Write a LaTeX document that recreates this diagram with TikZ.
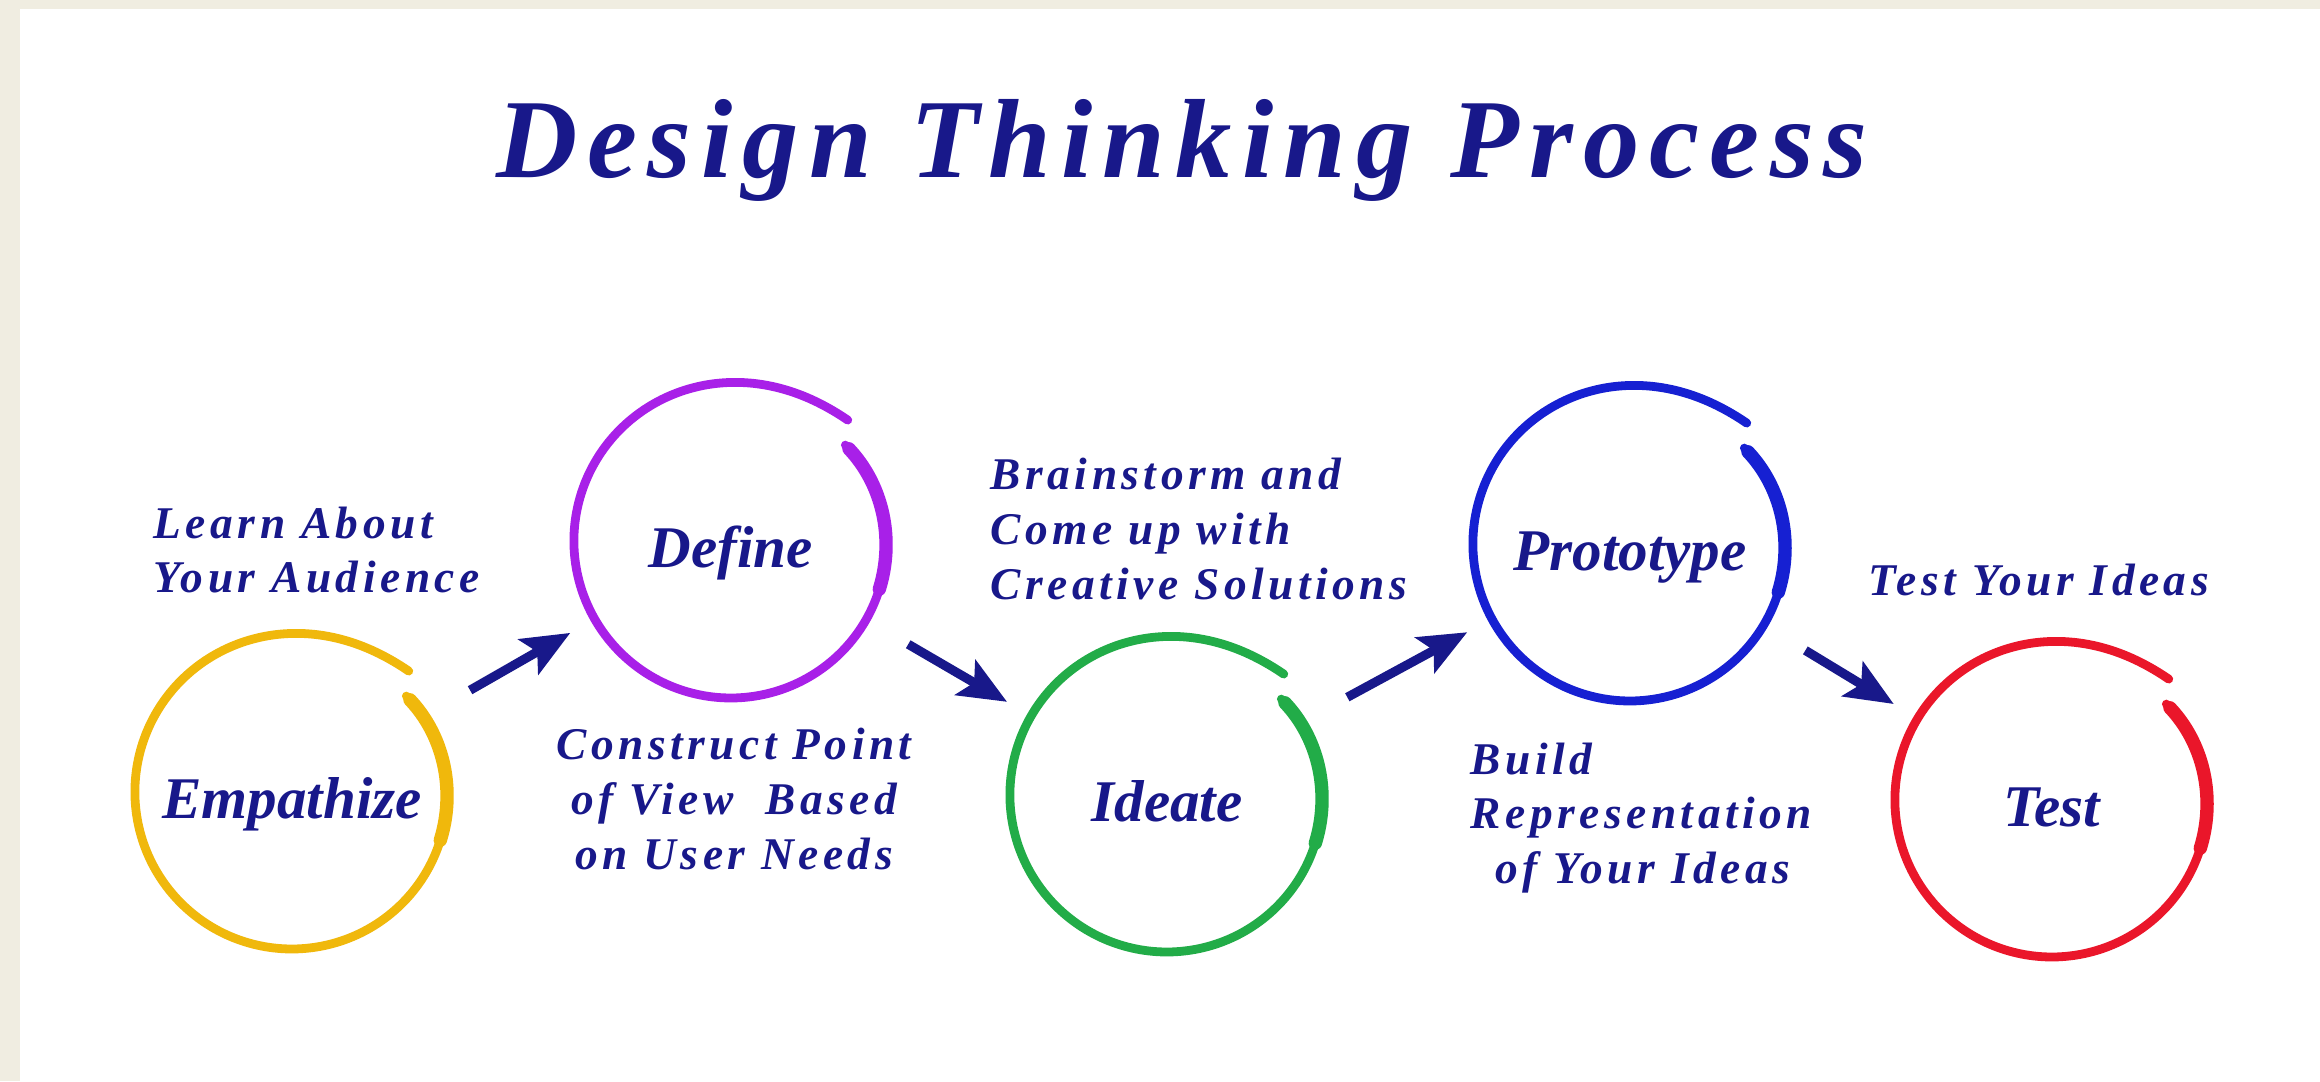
\documentclass[tikz,border=0pt]{standalone}
\usepackage{fontspec}
\setmainfont{Liberation Serif}
\newfontfamily\notefont[LetterSpace=10]{Liberation Serif}
\newfontfamily\titlefont[LetterSpace=9]{Liberation Serif}
\usetikzlibrary{positioning,arrows.meta}

\definecolor{inkblue}{RGB}{24,24,138}
\definecolor{paper}{RGB}{240,237,225}
\definecolor{ringyellow}{RGB}{240,184,12}
\definecolor{ringpurple}{RGB}{168,32,232}
\definecolor{ringgreen}{RGB}{34,172,72}
\definecolor{ringblue}{RGB}{22,32,210}
\definecolor{ringred}{RGB}{234,22,42}

\newcommand{\stagering}[2]{%
  \begin{scope}[shift={(#1.center)}, x=1cm, y=1cm, color=#2, line cap=round]
    \draw[line width=2.5pt] plot[domain=46:400, samples=120, smooth]
      (\x:{1.57*(1+0.07*exp(-(\x-46)/22)-0.05*exp(-(400-\x)/30))});
    \draw[line width=3.8pt] plot[domain=342:398, samples=30, smooth]
      (\x:{1.57*(1+0.07*exp(-(\x-46)/22)-0.05*exp(-(400-\x)/30))});
  \end{scope}}

\begin{document}
\begin{tikzpicture} [
                x=0.01cm, y=-0.01cm,
                stagenode/.style={
                    circle,
                    minimum size=3.14cm,
                    inner sep=0pt,
                    outer sep=0pt,
                    text height=15pt,
                    text depth=0pt,
                    text=inkblue,
                    font=\fontsize{16.8}{20}\selectfont\bfseries\itshape
                },
                notenode/.style={
                    text=inkblue,
                    inner sep=0pt,
                    font=\fontsize{12.9}{15.6}\selectfont\notefont\bfseries\itshape
                },
                flowarrow/.style={
                    inkblue,
                    line width=2.6pt,
                    -{Stealth[length=0.48cm, width=0.40cm, inset=0.1cm]},
                    shorten <=0.48cm,
                    shorten >=0.28cm
                }
            ]
                \fill[paper] (0,0) rectangle (2320,1081);
                \fill[white] (20,9) rectangle (2320,1081);
                \useasboundingbox (0,0) rectangle (2320,1081);
                \node[text=inkblue, anchor=base, font=\fontsize{32}{38}\selectfont\titlefont\bfseries\itshape] (title) at (1182,177) {Design Thinking Process};
                \node[stagenode] (stage0) at (292,792)  {Empathize};
                \node[stagenode] (stage1) at (731,541)  {Define};
                \node[stagenode] (stage2) at (1167,795) {Ideate};
                \node[stagenode] (stage3) at (1630,544) {Prototype};
                \node[stagenode] (stage4) at (2052,800) {Test};
                \stagering{stage0}{ringyellow}
                \stagering{stage1}{ringpurple}
                \stagering{stage2}{ringgreen}
                \stagering{stage3}{ringblue}
                \stagering{stage4}{ringred}
                \node[notenode, anchor=west, align=left]   (note0) at (153,550)  {Learn About\\Your Audience};
                \node[notenode, anchor=center, align=center] (note1) at (734,799) {Construct Point\\of View~~Based\\on User Needs};
                \node[notenode, anchor=west, align=left]   (note2) at (990,529)  {Brainstorm and\\Come up with\\Creative Solutions};
                \node[notenode, anchor=west, align=left]   (note3) at (1470,818) {Build\\Representation\\\hspace*{7pt}of Your Ideas};
                \node[notenode, anchor=west]               (note4) at (1868,580) {Test Your Ideas};
                \draw[flowarrow] (stage0) -- (stage1);
                \draw[flowarrow] (stage1) -- (stage2);
                \draw[flowarrow] (stage2) -- (stage3);
                \draw[flowarrow] (stage3) -- (stage4);
            \end{tikzpicture}
\end{document}
